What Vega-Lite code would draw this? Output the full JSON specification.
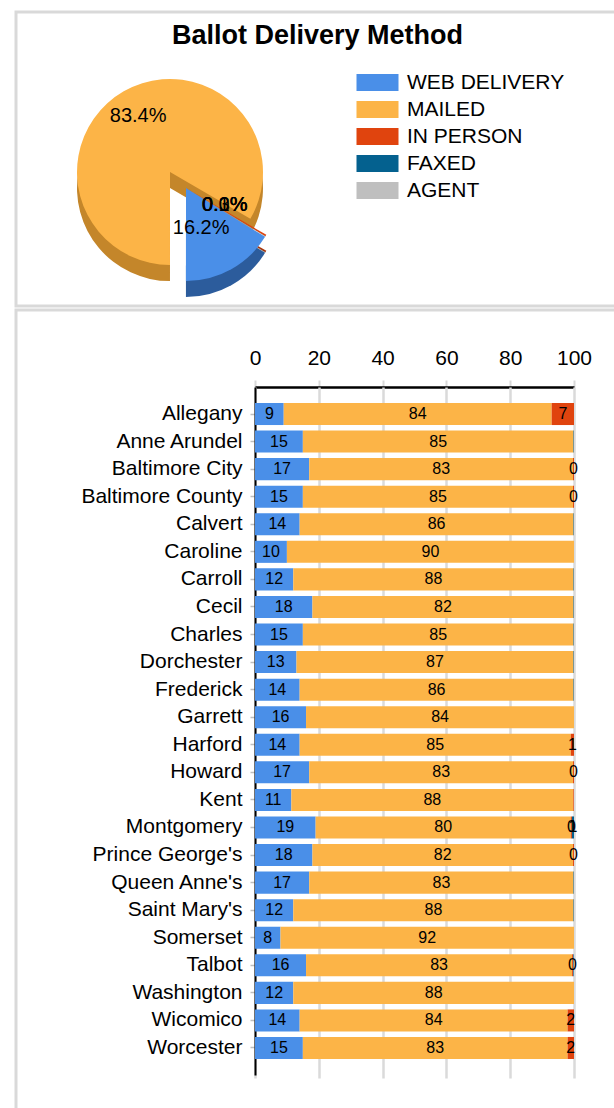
{
  "$schema": "https://vega.github.io/schema/vega-lite/v6.json",
  "padding": {"left": 14, "top": 10, "right": 0, "bottom": 0},
  "background": "white",
  "spacing": 0,
  "config": {
    "view": {"stroke": "#d9d9d9", "strokeWidth": 3},
    "font": "Liberation Sans",
    "title": {"fontSize": 27, "fontWeight": "bold", "color": "black", "font": "Liberation Sans"}
  },
  "resolve": {"scale": {"color": "independent"}, "legend": {"color": "independent"}},
  "datasets": {
    "pie": [
      {"method": "WEB DELIVERY", "share": 0.162},
      {"method": "MAILED", "share": 0.834},
      {"method": "IN PERSON", "share": 0.003},
      {"method": "FAXED", "share": 0.0002},
      {"method": "AGENT", "share": 0.0008}
    ],
    "bars": [
      {"county": "Allegany", "method": "WEB DELIVERY", "value": 9},
      {"county": "Allegany", "method": "MAILED", "value": 84},
      {"county": "Allegany", "method": "IN PERSON", "value": 7},
      {"county": "Anne Arundel", "method": "WEB DELIVERY", "value": 15},
      {"county": "Anne Arundel", "method": "MAILED", "value": 84.85},
      {"county": "Anne Arundel", "method": "FAXED", "value": 0.15},
      {"county": "Baltimore City", "method": "WEB DELIVERY", "value": 17},
      {"county": "Baltimore City", "method": "MAILED", "value": 82.7},
      {"county": "Baltimore City", "method": "IN PERSON", "value": 0.3},
      {"county": "Baltimore County", "method": "WEB DELIVERY", "value": 15},
      {"county": "Baltimore County", "method": "MAILED", "value": 84.7},
      {"county": "Baltimore County", "method": "IN PERSON", "value": 0.3},
      {"county": "Calvert", "method": "WEB DELIVERY", "value": 14},
      {"county": "Calvert", "method": "MAILED", "value": 85.85},
      {"county": "Calvert", "method": "FAXED", "value": 0.15},
      {"county": "Caroline", "method": "WEB DELIVERY", "value": 10},
      {"county": "Caroline", "method": "MAILED", "value": 90},
      {"county": "Carroll", "method": "WEB DELIVERY", "value": 12},
      {"county": "Carroll", "method": "MAILED", "value": 87.85},
      {"county": "Carroll", "method": "FAXED", "value": 0.15},
      {"county": "Cecil", "method": "WEB DELIVERY", "value": 18},
      {"county": "Cecil", "method": "MAILED", "value": 81.85},
      {"county": "Cecil", "method": "FAXED", "value": 0.15},
      {"county": "Charles", "method": "WEB DELIVERY", "value": 15},
      {"county": "Charles", "method": "MAILED", "value": 84.85},
      {"county": "Charles", "method": "FAXED", "value": 0.15},
      {"county": "Dorchester", "method": "WEB DELIVERY", "value": 13},
      {"county": "Dorchester", "method": "MAILED", "value": 86.85},
      {"county": "Dorchester", "method": "FAXED", "value": 0.15},
      {"county": "Frederick", "method": "WEB DELIVERY", "value": 14},
      {"county": "Frederick", "method": "MAILED", "value": 85.85},
      {"county": "Frederick", "method": "FAXED", "value": 0.15},
      {"county": "Garrett", "method": "WEB DELIVERY", "value": 16},
      {"county": "Garrett", "method": "MAILED", "value": 84},
      {"county": "Harford", "method": "WEB DELIVERY", "value": 14},
      {"county": "Harford", "method": "MAILED", "value": 85},
      {"county": "Harford", "method": "IN PERSON", "value": 1},
      {"county": "Howard", "method": "WEB DELIVERY", "value": 17},
      {"county": "Howard", "method": "MAILED", "value": 82.7},
      {"county": "Howard", "method": "IN PERSON", "value": 0.3},
      {"county": "Kent", "method": "WEB DELIVERY", "value": 11.4},
      {"county": "Kent", "method": "MAILED", "value": 88.4},
      {"county": "Kent", "method": "IN PERSON", "value": 0.2},
      {"county": "Montgomery", "method": "WEB DELIVERY", "value": 19},
      {"county": "Montgomery", "method": "MAILED", "value": 80},
      {"county": "Montgomery", "method": "IN PERSON", "value": 0.35},
      {"county": "Montgomery", "method": "FAXED", "value": 0.65},
      {"county": "Prince George's", "method": "WEB DELIVERY", "value": 18},
      {"county": "Prince George's", "method": "MAILED", "value": 81.7},
      {"county": "Prince George's", "method": "IN PERSON", "value": 0.3},
      {"county": "Queen Anne's", "method": "WEB DELIVERY", "value": 17},
      {"county": "Queen Anne's", "method": "MAILED", "value": 82.85},
      {"county": "Queen Anne's", "method": "FAXED", "value": 0.15},
      {"county": "Saint Mary's", "method": "WEB DELIVERY", "value": 12},
      {"county": "Saint Mary's", "method": "MAILED", "value": 87.85},
      {"county": "Saint Mary's", "method": "FAXED", "value": 0.15},
      {"county": "Somerset", "method": "WEB DELIVERY", "value": 8},
      {"county": "Somerset", "method": "MAILED", "value": 92},
      {"county": "Talbot", "method": "WEB DELIVERY", "value": 16},
      {"county": "Talbot", "method": "MAILED", "value": 83.4},
      {"county": "Talbot", "method": "IN PERSON", "value": 0.3},
      {"county": "Talbot", "method": "FAXED", "value": 0.2},
      {"county": "Washington", "method": "WEB DELIVERY", "value": 12},
      {"county": "Washington", "method": "MAILED", "value": 88},
      {"county": "Wicomico", "method": "WEB DELIVERY", "value": 14},
      {"county": "Wicomico", "method": "MAILED", "value": 84},
      {"county": "Wicomico", "method": "IN PERSON", "value": 2},
      {"county": "Worcester", "method": "WEB DELIVERY", "value": 15},
      {"county": "Worcester", "method": "MAILED", "value": 83},
      {"county": "Worcester", "method": "IN PERSON", "value": 2}
    ]
  },
  "vconcat": [
    {
      "width": 603,
      "height": 294,
      "title": {"text": "Ballot Delivery Method", "offset": -38, "anchor": "middle"},
      "data": {"name": "pie"},
      "encoding": {
        "x": {"datum": 0.2554, "type": "quantitative", "scale": {"domain": [0, 1]}, "axis": null},
        "y": {"datum": 0.4558, "type": "quantitative", "scale": {"domain": [0, 1]}, "axis": null}
      },
      "layer": [
        {
          "transform": [
            {"stack": "share", "groupby": [], "sort": [{"field": "method", "order": "descending"}], "as": ["a0", "a1"]},
            {"filter": "datum.method === 'MAILED'"}
          ],
          "mark": {"type": "arc", "radius": 93},
          "encoding": {
            "theta": {"field": "a0", "type": "quantitative", "scale": {"domain": [0, 1], "range": [2.124, 8.407]}},
            "theta2": {"field": "a1"},
            "y": {"datum": 0.401, "type": "quantitative"},
            "fill": {
              "field": "method", "type": "nominal", "legend": null,
              "scale": {"domain": ["WEB DELIVERY", "MAILED", "IN PERSON", "FAXED", "AGENT"],
                        "range": ["#2c5c9c", "#c4862a", "#a83308", "#03456a", "#8c8c8c"]}
            }
          }
        },
        {
          "transform": [
            {"stack": "share", "groupby": [], "sort": [{"field": "method", "order": "descending"}], "as": ["a0", "a1"]},
            {"filter": "datum.method === 'MAILED'"}
          ],
          "mark": {"type": "arc", "radius": 93},
          "encoding": {
            "theta": {"field": "a0", "type": "quantitative"},
            "theta2": {"field": "a1"},
            "color": {
              "field": "method", "type": "nominal",
              "scale": {"domain": ["WEB DELIVERY", "MAILED", "IN PERSON", "FAXED", "AGENT"],
                        "range": ["#4a8fe8", "#fcb447", "#e0440e", "#04618f", "#bfbfbf"]},
              "legend": {
                "orient": "none", "legendX": 351, "legendY": 60, "title": null,
                "symbolType": "M-2,-0.8H2V0.8H-2Z", "symbolSize": 441,
                "symbolStrokeWidth": 0, "symbolOpacity": 1,
                "labelFontSize": 21, "labelColor": "black", "labelOffset": 19,
                "rowPadding": 5, "labelFont": "Liberation Sans"
              }
            }
          }
        },
        {
          "transform": [
            {"stack": "share", "groupby": [], "sort": [{"field": "method", "order": "descending"}], "as": ["a0", "a1"]},
            {"filter": "datum.method !== 'MAILED'"}
          ],
          "mark": {"type": "arc", "radius": 93},
          "encoding": {
            "theta": {"field": "a0", "type": "quantitative"},
            "theta2": {"field": "a1"},
            "x": {"datum": 0.2819, "type": "quantitative"},
            "y": {"datum": 0.347, "type": "quantitative"},
            "fill": {"field": "method", "type": "nominal", "legend": null}
          }
        },
        {
          "transform": [
            {"stack": "share", "groupby": [], "sort": [{"field": "method", "order": "descending"}], "as": ["a0", "a1"]},
            {"filter": "datum.method !== 'MAILED'"}
          ],
          "mark": {"type": "arc", "radius": 93},
          "encoding": {
            "theta": {"field": "a0", "type": "quantitative"},
            "theta2": {"field": "a1"},
            "x": {"datum": 0.2819, "type": "quantitative"},
            "y": {"datum": 0.4014, "type": "quantitative"},
            "color": {"field": "method", "type": "nominal"}
          }
        },
        {
          "mark": {"type": "text", "radius": 64, "fontSize": 20, "color": "black"},
          "encoding": {
            "theta": {"field": "share", "type": "quantitative", "stack": true},
            "order": {"field": "method", "sort": "descending"},
            "detail": {"field": "method"},
            "text": {"field": "share", "type": "quantitative", "format": ".1%"}
          }
        }
      ]
    },
    {
      "width": 603,
      "height": 800,
      "data": {"name": "bars"},
      "encoding": {
        "y": {
          "field": "county", "type": "nominal", "sort": null,
          "scale": {"range": [77, 765], "paddingInner": 0.2, "paddingOuter": 0.58},
          "axis": {
            "orient": "left", "offset": -239, "title": null,
            "domainColor": "black", "domainWidth": 2,
            "tickColor": "#bfbfbf", "tickSize": 5, "tickWidth": 1.5,
            "labelFontSize": 21, "labelColor": "black", "labelPadding": 8, "labelFont": "Liberation Sans"
          }
        },
        "order": {"field": "method", "sort": "descending"}
      },
      "layer": [
        {
          "mark": {"type": "bar"},
          "encoding": {
            "x": {
              "field": "value", "type": "quantitative", "stack": "zero",
              "scale": {"domain": [0, 100], "range": [239, 558], "nice": false},
              "axis": {
                "orient": "top", "offset": -77, "title": null, "grid": false,
                "values": [0, 20, 40, 60, 80, 100],
                "domainColor": "black", "domainWidth": 2.5,
                "tickColor": "#d9d9d9", "tickSize": 7, "tickWidth": 2,
                "labelFontSize": 21, "labelColor": "black", "labelPadding": 12,
                "labelFlush": false, "labelFont": "Liberation Sans"
              }
            },
            "color": {
              "field": "method", "type": "nominal", "legend": null,
              "scale": {"domain": ["WEB DELIVERY", "MAILED", "IN PERSON", "FAXED", "AGENT"],
                        "range": ["#4a8fe8", "#fcb447", "#e0440e", "#04618f", "#bfbfbf"]}
            }
          }
        },
        {
          "transform": [{"filter": "datum.value >= 0.25"}],
          "mark": {"type": "text", "font": "Liberation Sans", "fontSize": 16, "color": "black"},
          "encoding": {
            "x": {
              "field": "value", "type": "quantitative", "stack": "zero", "bandPosition": 0.5,
              "axis": {
                "orient": "bottom", "offset": -723, "title": null, "grid": false,
                "values": [0, 20, 40, 60, 80, 100],
                "domain": false, "labels": false,
                "tickColor": "#dadada", "tickSize": 691, "tickWidth": 2.5
              }
            },
            "detail": {"field": "method"},
            "text": {"field": "value", "type": "quantitative", "format": ".0f"}
          }
        }
      ],
      "resolve": {"axis": {"x": "independent"}}
    }
  ]
}
